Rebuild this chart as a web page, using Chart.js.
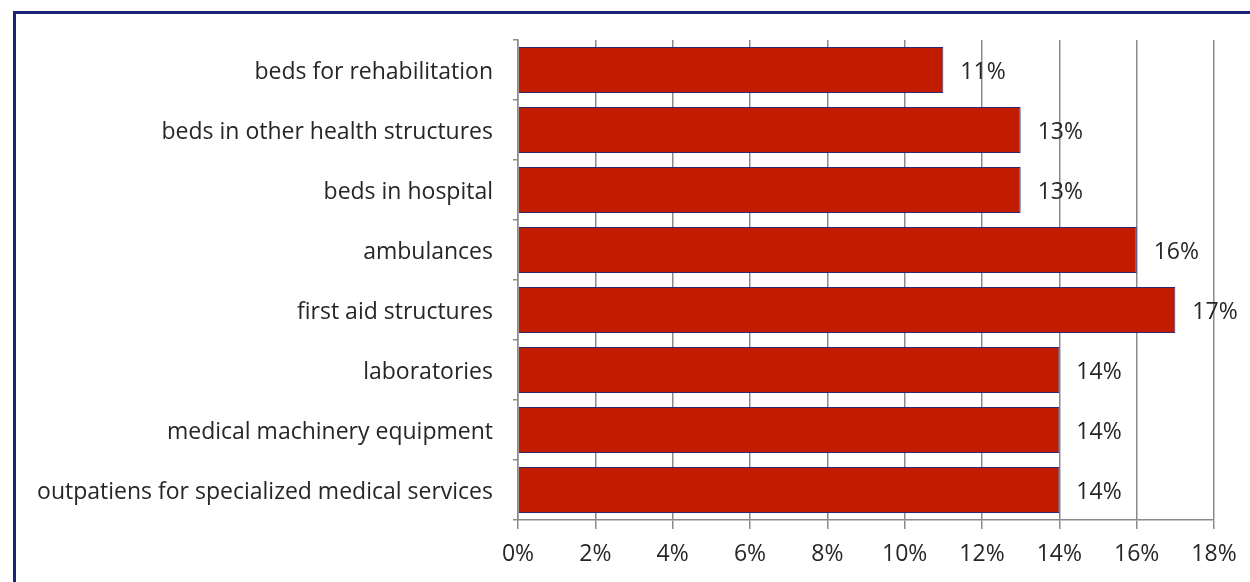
<!DOCTYPE html>
<html>
<head>
<meta charset="utf-8">
<script src="https://cdn.jsdelivr.net/npm/chart.js@4"></script>
<style>
  html, body { margin: 0; padding: 0; background: #fff; overflow: hidden; }
  #wrap { position: absolute; left: 0; top: 0; width: 1250px; height: 582px; }
  #frame {
    position: absolute; left: 13px; top: 11px; width: 1260px; height: 600px;
    border: 3px solid #1c2478; box-sizing: border-box;
  }
  canvas { position: absolute; left: 0; top: 0; }
</style>
</head>
<body>
<div id="wrap">
  <div id="frame"></div>
  <canvas id="chart" width="1250" height="582"></canvas>
</div>
<script>
const categories = [
    'beds for rehabilitation',
    'beds in other health structures',
    'beds in hospital',
    'ambulances',
    'first aid structures',
    'laboratories',
    'medical machinery equipment',
    'outpatiens for specialized medical services'
];
const shares = [11, 13, 13, 16, 17, 14, 14, 14];
const tickValues = [0, 2, 4, 6, 8, 10, 12, 14, 16, 18];

const fontFamily = '"Open Sans", sans-serif';
const fontSize = 23;
const textColor = '#262626';
const gridColor = '#8a8a8a';

// writes "NN%" just past the end of each bar
const barValueLabels = {
    id: 'barValueLabels',
    afterDatasetsDraw(chart) {
        const ctx = chart.ctx;
        const meta = chart.getDatasetMeta(0);
        ctx.save();
        ctx.font = fontSize + 'px ' + fontFamily;
        ctx.fillStyle = textColor;
        ctx.textAlign = 'left';
        ctx.textBaseline = 'middle';
        meta.data.forEach(function(bar, i) {
            ctx.fillText(shares[i] + '%', bar.x + 17, bar.y + 2);
        });
        ctx.restore();
    }
};

const ctx = document.getElementById('chart').getContext('2d');
const chart = new Chart(ctx, {
    type: 'bar',
    data: {
        labels: categories,
        datasets: [{
            data: shares,
            backgroundColor: '#c11b00',
            borderColor: '#2a2a78',
            borderWidth: 1,
            barPercentage: 0.77,
            categoryPercentage: 1.0
        }]
    },
    options: {
        indexAxis: 'y',
        responsive: false,
        animation: false,
        layout: {
            padding: { top: 40, right: 36, bottom: 0, left: 0 }
        },
        plugins: {
            legend: { display: false },
            tooltip: { enabled: false }
        },
        scales: {
            x: {
                min: 0,
                max: 18,
                afterBuildTicks(axis) {
                    axis.ticks = tickValues.map(v => ({ value: v }));
                },
                afterFit(axis) {
                    axis.height = 62;
                },
                ticks: {
                    color: textColor,
                    font: { family: fontFamily, size: fontSize },
                    padding: 12,
                    maxRotation: 0,
                    callback: v => v + '%'
                },
                grid: {
                    color: gridColor,
                    lineWidth: 1.5,
                    tickLength: 9
                },
                border: { color: gridColor, width: 1.5 }
            },
            y: {
                afterFit(axis) {
                    axis.width = 518;
                },
                ticks: {
                    color: textColor,
                    font: { family: fontFamily, size: fontSize },
                    padding: 20,
                    labelOffset: 2
                },
                grid: {
                    drawOnChartArea: false,
                    color: gridColor,
                    lineWidth: 1.5,
                    tickLength: 5,
                    offset: true
                },
                border: { color: gridColor, width: 1.5 }
            }
        }
    },
    plugins: [barValueLabels]
});
</script>
</body>
</html>
